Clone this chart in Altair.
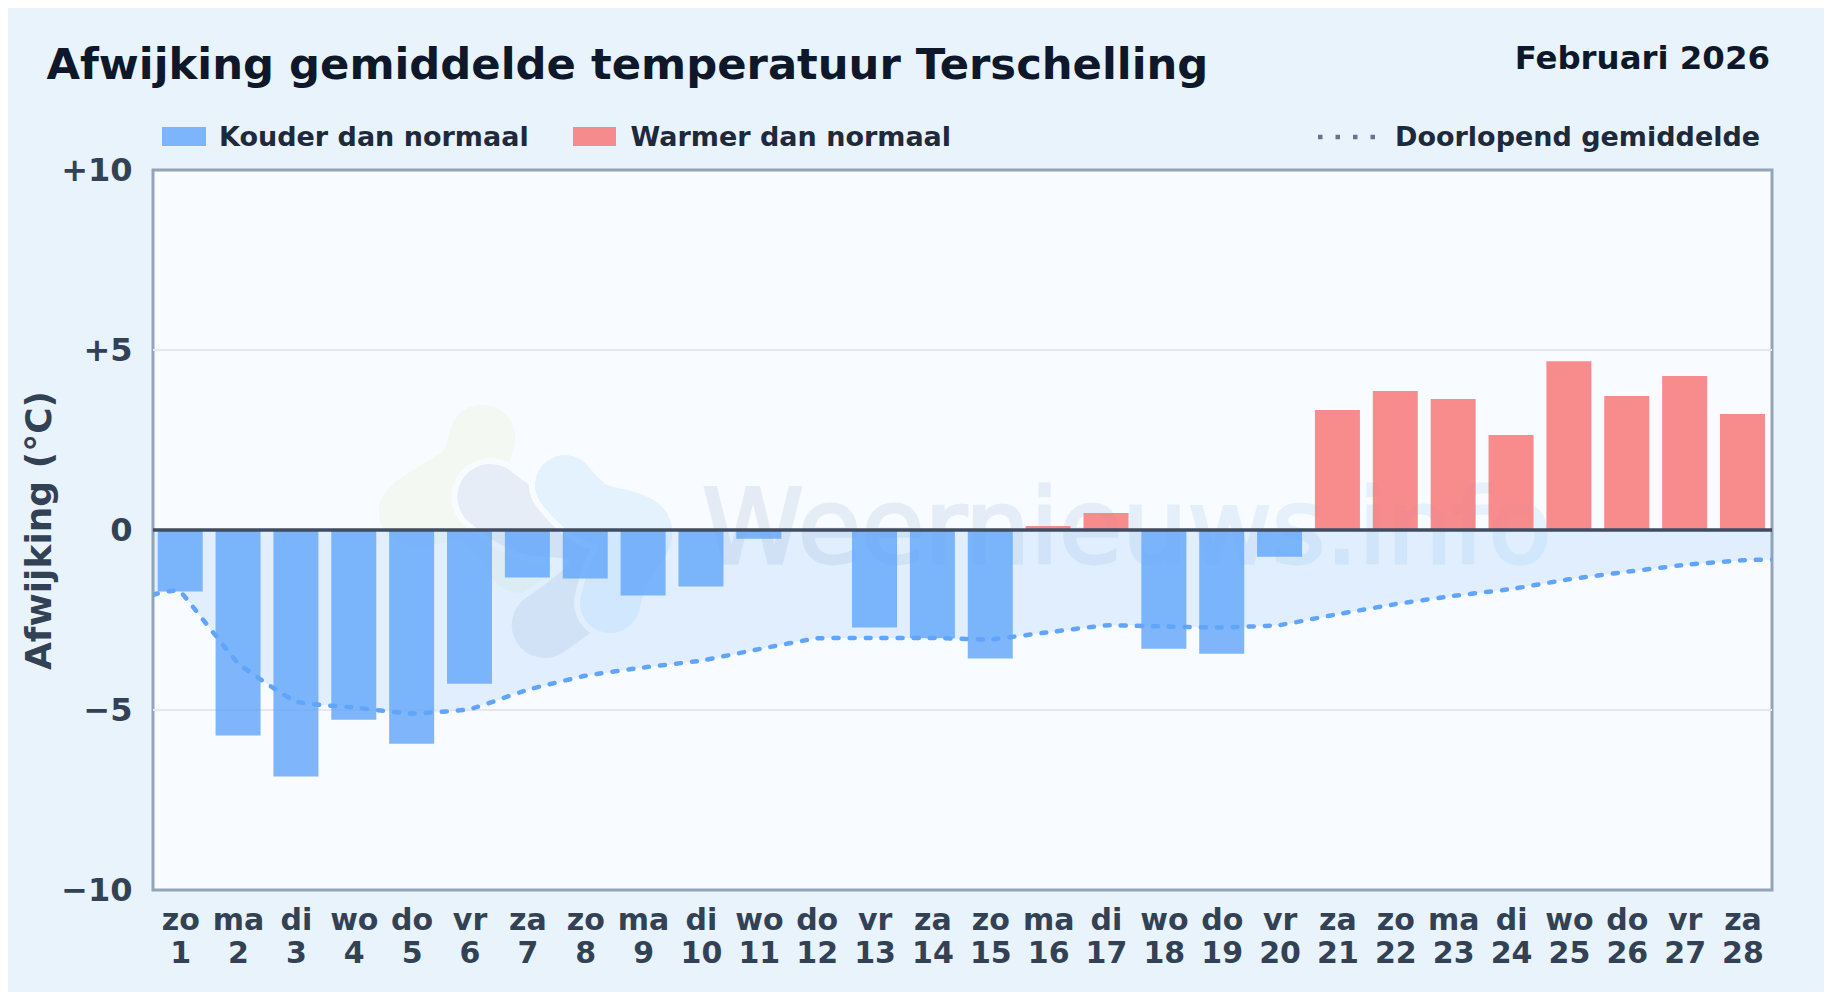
import altair as alt
import pandas as pd

days = list(range(1, 29))
weekdays = ["zo","ma","di","wo","do","vr","za"] * 4
deviation = [-1.71,-5.71,-6.85,-5.27,-5.94,-4.27,-1.32,-1.35,-1.82,-1.57,-0.24,0.0,-2.71,-3.01,
             -3.57,0.11,0.47,-3.30,-3.44,-0.74,3.33,3.86,3.64,2.64,4.69,3.72,4.28,3.22]
mean_x = [0.53] + days + [28.51]
mean_y = [-1.80,-1.71,-3.70,-4.77,-4.93,-5.10,-4.98,-4.44,-4.05,-3.82,-3.63,-3.31,-3.01,-3.00,-3.00,
          -3.04,-2.84,-2.65,-2.68,-2.71,-2.64,-2.34,-2.06,-1.83,-1.64,-1.37,-1.16,-0.97,-0.84,-0.82]
grid_values = [-5, 5]
y_ticks = [-10, -5, 0, 5, 10]

# watermark logo (three lobed shapes), in chart units
yellow_x = [6.22, 6.01, 5.01, 6.01, 6.87]
yellow_y = [2.56, 1.67, 0.47, 0.56, -0.83]
grey_x = [6.36, 6.96, 8.09, 8.26, 7.30]
grey_y = [0.92, 0.28, -0.08, -1.25, -2.64]
sky_x = [7.65, 8.08, 8.98, 8.60, 8.43]
sky_y = [1.25, 0.56, 0.0, -1.11, -2.03]

BLUE = "#60a5fa"
RED = "#f87171"
INK = "#334155"
FONT = "DejaVu Sans"

X = alt.Scale(domain=[0.53, 28.51], nice=False, zero=False, padding=0)
Y = alt.Scale(domain=[-10, 10], nice=False, padding=0)
weekday_js = "[" + ",".join(f"'{d}'" for d in weekdays) + "]"

X_AXIS = alt.Axis(
    values=days, domain=False, ticks=False, grid=False, labelFont=FONT, labelFontSize=30,
    labelFontWeight="bold", labelColor=INK, labelPadding=15, labelLineHeight=33,
    labelAlign="center", labelBaseline="top", labelOverlap=False, labelFlush=False,
    labelExpr=f"[{weekday_js}[datum.value-1], '' + datum.value]")
Y_AXIS = alt.Axis(
    values=y_ticks, domain=False, ticks=False, grid=False, labelFont=FONT, labelFontSize=32,
    labelFontWeight="bold", labelColor=INK, labelPadding=21,
    labelExpr="datum.value > 0 ? '+' + datum.value : datum.value < 0 ? '\u2212' + abs(datum.value) : '0'",
    titleFont=FONT, titleFontSize=36, titleFontWeight="bold", titleColor=INK, titlePadding=2)
XE = lambda f: alt.X(f, scale=X, title=None, axis=X_AXIS)
YE = lambda f: alt.Y(f, scale=Y, title="Afwijking (°C)", axis=Y_AXIS, stack=None)

bars_df = pd.DataFrame({"dag": days, "afwijking": deviation,
                        "soort": ["Warmer dan normaal" if v > 0 else "Kouder dan normaal" for v in deviation]})
mean_df = pd.DataFrame({"dag": mean_x, "gemiddelde": mean_y})
grid_df = pd.DataFrame({"v": grid_values})


def blob(xs, ys, color, opacity, width, halo=False):
    df = pd.DataFrame({"dag": xs, "t": ys, "i": range(len(xs))})
    base = alt.Chart(df)
    enc = dict(x=XE("dag:Q"), y=YE("t:Q"), order="i:Q")
    out = []
    if halo:
        out.append(base.mark_line(color="#f8fbff", strokeWidth=width + 12, strokeCap="round",
                                  strokeJoin="round", interpolate="catmull-rom").encode(**enc))
    out.append(base.mark_line(color=color, opacity=opacity, strokeWidth=width, strokeCap="round",
                              strokeJoin="round", interpolate="catmull-rom").encode(**enc))
    return out


def txt(text, x, y, size, color=INK, align="left", weight="bold"):
    return alt.Chart(pd.DataFrame({"t": [text]})).mark_text(
        font=FONT, fontSize=size, fontWeight=weight, color=color, align=align, baseline="alphabetic"
    ).encode(text="t:N", x=alt.value(x), y=alt.value(y))


def swatch(x, x2, y, y2, color):
    return alt.Chart(pd.DataFrame({"t": [0]})).mark_rect(color=color, opacity=0.8).encode(
        x=alt.value(x), x2=alt.value(x2), y=alt.value(y), y2=alt.value(y2))


wm_fill = alt.Gradient(gradient="linear", x1=0, x2=1, y1=0, y2=0,
                       stops=[alt.GradientStop(color="#1e4e8c", offset=0),
                              alt.GradientStop(color="#2f9bf0", offset=1)])
watermark = alt.Chart(pd.DataFrame({"t": ["Weernieuws.info"]})).mark_text(
    font=FONT, fontSize=103, fontWeight="normal", align="left", baseline="alphabetic", opacity=0.085,
    color=wm_fill, stroke=wm_fill, strokeWidth=3
).encode(text="t:N", x=alt.value(549), y=alt.value(393))

area = alt.Chart(mean_df).mark_area(color=BLUE, opacity=0.15, interpolate="cardinal", tension=0.7, clip=True).encode(
    x=XE("dag:Q"), y=YE("gemiddelde:Q"), y2=alt.datum(0))

grid = alt.Chart(grid_df).mark_rule(color="#e5e7eb", strokeWidth=2).encode(y=YE("v:Q"))

bars = alt.Chart(bars_df).mark_bar(width=45, opacity=0.8).encode(
    x=XE("dag:Q"), y=YE("afwijking:Q"),
    color=alt.Color("soort:N", legend=None,
                    scale=alt.Scale(domain=["Kouder dan normaal", "Warmer dan normaal"], range=[BLUE, RED])))

zero = alt.Chart(pd.DataFrame({"v": [0]})).mark_rule(color="#3f4c61", strokeWidth=3.5).encode(y=YE("v:Q"))

line = alt.Chart(mean_df).mark_line(color=BLUE, strokeWidth=4.5, strokeDash=[5, 11], strokeCap="round",
                                    interpolate="cardinal", tension=0.7, clip=True).encode(
    x=XE("dag:Q"), y=YE("gemiddelde:Q"))

legend_line = alt.Chart(pd.DataFrame({"t": [0]})).mark_rule(
    color="#64748b", strokeWidth=4.5, strokeDash=[4.5, 13]).encode(
    x=alt.value(1165), x2=alt.value(1222), y=alt.value(-33))

layers = (blob(yellow_x, yellow_y, "#c8e06a", 0.09, 66)
          + blob(grey_x, grey_y, "#1e4e8c", 0.08, 66, halo=True)
          + blob(sky_x, sky_y, "#4db0f5", 0.11, 60, halo=True)
          + [watermark, area, grid, bars, zero, line,
             txt("Afwijking gemiddelde temperatuur Terschelling", -106.5, -91, 43.3, "#0f172a"),
             txt("Februari 2026", 1617, -101, 32.4, "#0f172a", "right"),
             swatch(9, 53, -43, -24, BLUE),
             txt("Kouder dan normaal", 66, -24, 27, "#1e293b"),
             swatch(420, 463, -43, -24, RED),
             txt("Warmer dan normaal", 477.5, -24, 27, "#1e293b"),
             legend_line,
             txt("Doorlopend gemiddelde", 1242, -24, 27, "#1e293b")])

chart = alt.layer(*layers).resolve_scale(x="shared", y="shared").properties(
    width=1619, height=720,
    padding={"left": 145, "top": 162, "right": 52, "bottom": 102},
    autosize=alt.AutoSizeParams(type="none"),
    background="#e8f3fc",
).configure_view(fill="#f8fbff", stroke="#94a3b8", strokeWidth=3)

chart.save("out.html", embed_options={"renderer": "svg", "actions": False})
